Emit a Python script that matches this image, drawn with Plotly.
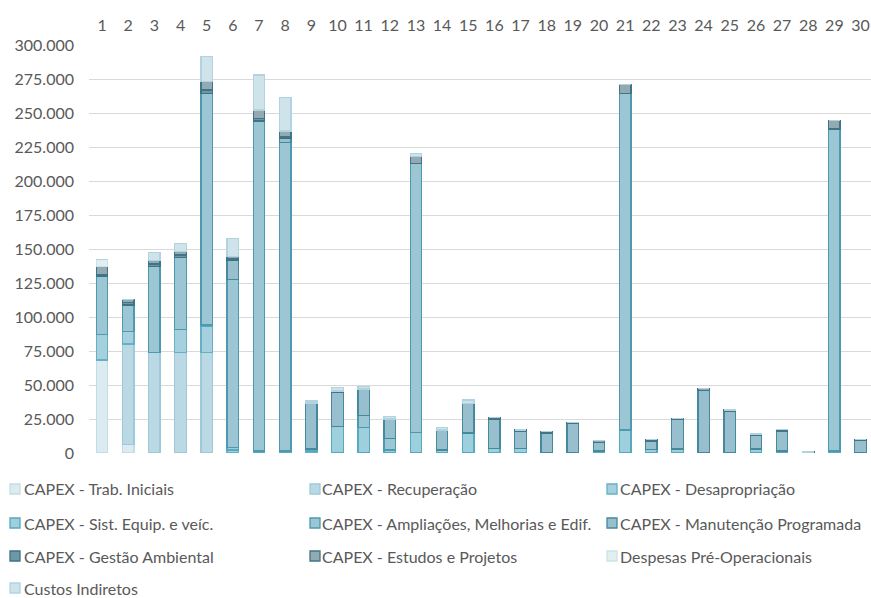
import plotly.graph_objects as go

# Anos do projeto (eixo superior)
anos = [1, 2, 3, 4, 5, 6, 7, 8, 9, 10, 11, 12, 13, 14, 15,
        16, 17, 18, 19, 20, 21, 22, 23, 24, 25, 26, 27, 28, 29, 30]

# Valores por componente de custo (R$ mil)
trab_iniciais = [68400, 6400, 0, 0, 0, 0, 0, 0, 0, 0, 0, 0, 0, 0, 0,
                 0, 0, 0, 0, 0, 0, 0, 0, 0, 0, 0, 0, 0, 0, 0]
recuperacao = [0, 73700, 73800, 73800, 73800, 0, 0, 0, 0, 0, 0, 0, 0, 0, 0,
               0, 0, 0, 0, 0, 0, 0, 0, 0, 0, 0, 0, 0, 0, 0]
desapropriacao = [18900, 9100, 0, 17100, 19600, 2200, 0, 0, 1500, 0, 0, 0, 0, 0, 0,
                  0, 0, 0, 0, 0, 0, 0, 0, 0, 0, 0, 0, 0, 0, 0]
sist_equip = [0, 0, 0, 0, 700, 2000, 1500, 1500, 1400, 19400, 18900, 2200, 15000, 2200, 14700,
              3200, 3200, 500, 0, 1500, 16900, 2700, 2900, 0, 0, 2900, 1500, 0, 1500, 0]
ampliacoes = [42800, 19600, 63200, 53000, 170400, 123500, 242600, 226900, 0, 0, 8500, 8300, 198000, 0, 0,
              0, 0, 0, 0, 0, 247600, 0, 0, 0, 0, 0, 0, 0, 236700, 0]
manutencao = [0, 0, 0, 0, 0, 13700, 0, 2800, 33800, 25400, 19700, 14500, 0, 14700, 21800,
              21800, 12500, 14200, 21500, 6400, 0, 6100, 21600, 45800, 30600, 10100, 14700, 0, 0, 9000]
gestao_ambiental = [1000, 2000, 2000, 1800, 2400, 1200, 2000, 1100, 0, 0, 0, 0, 0, 0, 0,
                    0, 0, 0, 0, 0, 0, 0, 0, 0, 0, 0, 0, 0, 0, 0]
estudos_projetos = [5900, 2200, 2400, 2300, 6100, 1700, 6100, 4500, 0, 800, 0, 0, 4900, 0, 0,
                    1200, 1200, 1000, 1000, 1200, 6600, 1000, 1000, 1700, 1000, 1000, 1200, 800, 6400, 1000]
despesas_pre_op = [5400, 0, 0, 0, 0, 0, 0, 0, 0, 0, 0, 0, 0, 0, 0,
                   0, 0, 0, 0, 0, 0, 0, 0, 0, 0, 0, 0, 0, 0, 0]
custos_indiretos = [0, 0, 6200, 6200, 18400, 13600, 25700, 24700, 1500, 2700, 1700, 1700, 2500, 2000, 2500,
                    0, 0, 0, 0, 0, 0, 0, 0, 0, 0, 0, 0, 0, 0, 0]

series = [
    ("CAPEX - Trab. Iniciais", trab_iniciais, "#DCEBF0", "#C3DDE6"),
    ("CAPEX - Recuperação", recuperacao, "#BAD9E4", "#9CCADA"),
    ("CAPEX - Desapropriação", desapropriacao, "#A5D0DE", "#66B0C5"),
    ("CAPEX - Sist. Equip. e veíc.", sist_equip, "#9DCFDD", "#55A9C0"),
    ("CAPEX - Ampliações, Melhorias e Edif.", ampliacoes, "#9CC6D4", "#4C9AB0"),
    ("CAPEX - Manutenção Programada", manutencao, "#98BFCD", "#46889C"),
    ("CAPEX - Gestão Ambiental", gestao_ambiental, "#6E98A5", "#3C7385"),
    ("CAPEX - Estudos e Projetos", estudos_projetos, "#94AAB2", "#3F7586"),
    ("Despesas Pré-Operacionais", despesas_pre_op, "#E3EEF1", "#CDE1E8"),
    ("Custos Indiretos", custos_indiretos, "#CFE3EA", "#B0D3DF"),
]

FONT = "Lato"
TXT = "#595959"
W, H = 871, 598
PL, PR, PT, PB = 89, 871, 45, 453  # plot area in pixels

fig = go.Figure()
for name, vals, fill, edge in series:
    fig.add_trace(go.Bar(
        x=anos, y=vals, name=name,
        marker=dict(color=fill, line=dict(color=edge, width=1.3)),
        showlegend=False,
    ))


def px_x(p):
    return (p - PL) / (PR - PL)


def px_y(p):
    return (PB - p) / (PB - PT)


# Legend laid out in three columns below the chart
shapes = []
annotations = []
col_swatch = [10, 310, 607]
col_text = [23, 321, 619]
row_y = [489, 523, 556, 588]
for i, (name, vals, fill, edge) in enumerate(series):
    r, c = divmod(i, 3)
    cy = row_y[r]
    x0 = col_swatch[c]
    shapes.append(dict(
        type="rect", xref="paper", yref="paper",
        x0=px_x(x0), x1=px_x(x0 + 10), y0=px_y(cy + 5), y1=px_y(cy - 5),
        fillcolor=fill, line=dict(color=edge, width=1.3),
    ))
    annotations.append(dict(
        text=name, xref="paper", yref="paper",
        x=px_x(col_text[c]), y=px_y(cy), xanchor="left", yanchor="middle",
        showarrow=False, borderpad=0,
        font=dict(family=FONT, size=16, color=TXT),
    ))

fig.update_layout(
    width=W, height=H,
    margin=dict(l=PL, r=W - PR, t=PT, b=H - PB, pad=0),
    barmode="stack", bargap=0.56,
    paper_bgcolor="white", plot_bgcolor="white",
    separators=",.",
    font=dict(family=FONT, size=16, color=TXT),
    shapes=shapes, annotations=annotations,
    xaxis=dict(
        side="top", range=[0.5, 30.4],
        tickmode="array", tickvals=anos, ticktext=[str(a) for a in anos],
        showgrid=False, zeroline=False, showline=False, ticks="",
        ticklabelstandoff=10,
        tickfont=dict(family=FONT, size=16, color=TXT),
    ),
    yaxis=dict(
        range=[0, 300000], dtick=25000, tickformat=",.0f",
        showgrid=True, gridcolor="#D9D9D9", gridwidth=1.3,
        zeroline=False, showline=False, ticks="",
        ticklabelstandoff=14,
        tickfont=dict(family=FONT, size=16, color=TXT),
    ),
)

fig.write_html("out.html")
